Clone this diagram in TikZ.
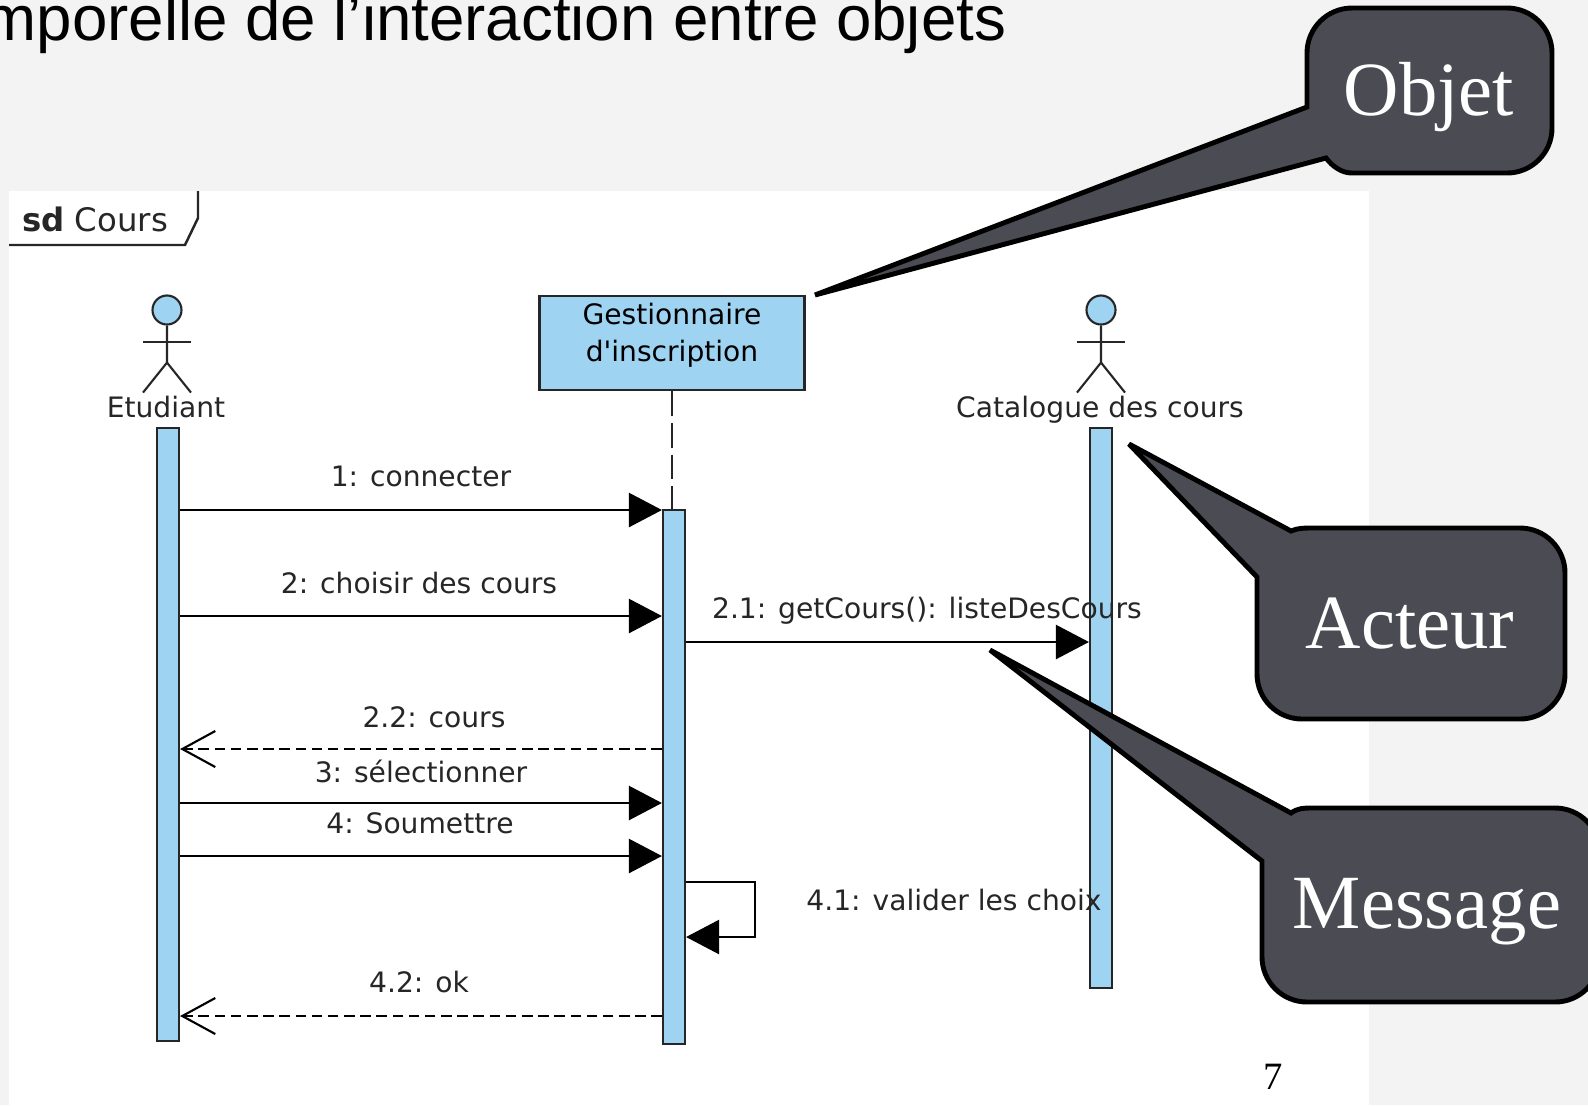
\documentclass[tikz,border=0pt]{standalone}
\usepackage{fontspec}
\setmainfont{DejaVu Sans}
\newfontfamily\umlfont{DejaVu Sans}
\newfontfamily\slidefont{Liberation Sans}
\newfontfamily\bubblefont{Liberation Serif}
\usetikzlibrary{arrows.meta, calc, positioning}
\definecolor{slidegray}{HTML}{F3F3F3}
\definecolor{umlblue}{HTML}{9FD3F2}
\definecolor{bubblegray}{HTML}{4B4B53}
\tikzset{
    x=0.01cm, y=-0.01cm,
    lifebar/.style = {rectangle, draw=black!85, line width=0.6pt, fill=umlblue, inner sep=0pt, minimum width=0.22cm}, % activation bars
    objbox/.style = {rectangle, draw=black!85, line width=0.7pt, fill=umlblue, align=center, inner sep=0pt, minimum width=2.65cm, minimum height=0.94cm, text depth=0.22cm, font=\umlfont\fontsize{8}{10.5}\selectfont},
    actorhead/.style = {circle, draw=black!85, line width=0.6pt, fill=umlblue, inner sep=0pt, minimum size=0.29cm},
    actorline/.style = {draw=black!85, line width=0.6pt},
    lbl/.style = {inner sep=0pt, text=black!85, font=\fontsize{8}{10}\selectfont},
    msg/.style = {line width=0.7pt, -{Triangle[length=0.33cm,width=0.34cm]}}, % synchronous call
    reply/.style = {line width=0.6pt, dash pattern=on 3pt off 1.6pt, -{Straight Barb[length=0.33cm,width=0.36cm]}},
    bubble/.style = {draw=black, line width=1.4pt, fill=bubblegray, line join=miter, miter limit=3},
    bubbletext/.style = {anchor=base, inner sep=0pt, text=white, font=\bubblefont\fontsize{21.8}{26}\selectfont}
}

\begin{document}
\begin{tikzpicture}
  \clip (0,0) rectangle (1588,1105);
  \fill[slidegray] (0,0) rectangle (1588,1105);
  \fill[white] (9,191) rectangle (1369,1105);
  \node[anchor=base west, inner sep=0pt, font=\slidefont\fontsize{18.1}{20}\selectfont] (title) at (-17,40)
    {mporelle de l’interaction entre objets};

  % frame tab
  \node[lbl, font=\fontsize{9.2}{11}\selectfont] (frametab) at (95,219) {\textbf{sd} Cours};
  \draw[actorline, line width=0.7pt] (9,245) -- (185,245) -- (198,218) -- (198,191);

  % lifelines
  \node[actorhead] (etuhead) at (167,310) {};
  \node[actorhead] (cathead) at (1101,310) {};
  \node[objbox] (gestbox) at (672,343) {Gestionnaire\\d'inscription};
  \node[lbl] (etulabel) at (166,407) {Etudiant};
  \node[lbl] (catlabel) at (1100,410) {Catalogue des cours};
  \node[lifebar, anchor=north, minimum height=6.13cm] (etubar) at (168,427) {};
  \node[lifebar, anchor=north, minimum height=5.34cm] (gestbar) at (674,509) {};
  \node[lifebar, anchor=north, minimum height=5.60cm] (catbar) at (1101,427) {};
  \draw[actorline, dash pattern=on 7pt off 2pt] (gestbox.south) -- (gestbox.south |- gestbar.north);

  % stick figures
  \foreach \who in {etu, cat} {
    \draw[actorline] (\who head.south) -- ++(0,37) coordinate (\who hip)
      -- ++(-24,30) coordinate (\who lfoot);
    \draw[actorline] (\who hip) -- ++(24,30) coordinate (\who rfoot);
    \draw[actorline] ($(\who head.south)+(-24,16)$) coordinate (\who larm) -- ++(48,0) coordinate (\who rarm);
  }

  % messages
  \coordinate (y1) at (0,510);
  \coordinate (y2) at (0,616);
  \coordinate (y21) at (0,642);
  \coordinate (y22) at (0,749);
  \coordinate (y3) at (0,803);
  \coordinate (y4) at (0,856);
  \coordinate (y41) at (0,882);
  \coordinate (y41b) at (0,937);
  \coordinate (y42) at (0,1016);
  \coordinate (selfx) at (755,0);
  \draw[msg] (etubar.east |- y1) -- (gestbar.west |- y1);
  \draw[msg] (etubar.east |- y2) -- (gestbar.west |- y2);
  \draw[msg] (gestbar.east |- y21) -- (catbar.west |- y21);
  \draw[reply] (gestbar.west |- y22) -- (etubar.east |- y22);
  \draw[msg] (etubar.east |- y3) -- (gestbar.west |- y3);
  \draw[msg] (etubar.east |- y4) -- (gestbar.west |- y4);
  \draw[msg] (gestbar.east |- y41) -- (selfx |- y41) -- (selfx |- y41b) -- (gestbar.east |- y41b);
  \draw[reply] (gestbar.west |- y42) -- (etubar.east |- y42);

  \node[lbl] (m1) at (421,476) {1: connecter};
  \node[lbl] (m2) at (419,583) {2: choisir des cours};
  \node[lbl] (m21) at (927,611) {2.1: getCours(): listeDesCours};
  \node[lbl] (m22) at (434,717) {2.2: cours};
  \node[lbl] (m3) at (421,771) {3: sélectionner};
  \node[lbl] (m4) at (420,823) {4: Soumettre};
  \node[lbl] (m41) at (954,900) {4.1: valider les choix};
  \node[lbl] (m42) at (419,982) {4.2: ok};
  \node[inner sep=0pt, font=\bubblefont\fontsize{11}{13}\selectfont] (pagenum) at (1273,1077) {7};

  % callouts
  \coordinate (objtip) at (815,295);
  \coordinate (acttip) at (1129,444);
  \coordinate (msgtip) at (990,650);
  \draw[bubble] (objtip) -- (1307,107) [rounded corners=0.45cm] -- (1307,8) -- (1552,8) -- (1552,173) [sharp corners]
    -- (1352,173) .. controls (1342,173) and (1333,167) .. (1326,158) -- cycle;
  \draw[bubble] (acttip) -- (1291,531) .. controls (1298,528) and (1304,528) .. (1312,528)
    [rounded corners=0.45cm] -- (1565,528) -- (1565,719) -- (1257,719) [sharp corners] -- (1257,577) -- cycle;
  \draw[bubble] (msgtip) -- (1291,813) .. controls (1298,808) and (1304,808) .. (1312,808)
    [rounded corners=0.45cm] -- (1600,808) -- (1600,1002) -- (1262,1002) [sharp corners] -- (1262,861) -- cycle;
  \node[bubbletext] (objlabel) at (1429,115) {Objet};
  \node[bubbletext] (actlabel) at (1410,648) {Acteur};
  \node[bubbletext] (msglabel) at (1427,928) {Message};
\end{tikzpicture}
\end{document}
